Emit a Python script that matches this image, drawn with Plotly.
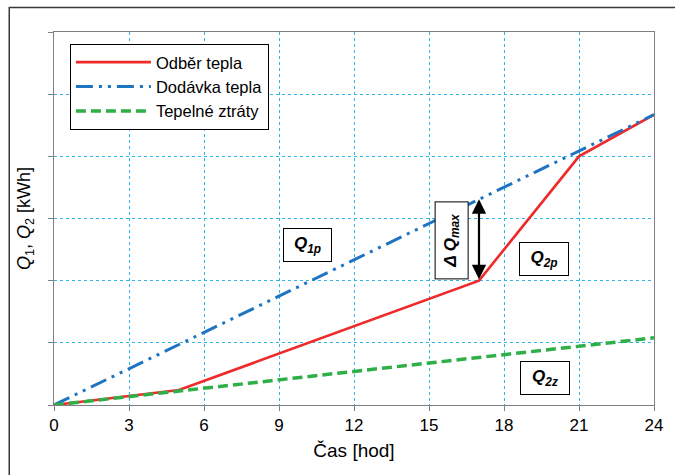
import numpy as np
import plotly.graph_objects as go

# ---- data ----
hours_odber = [0, 5, 17, 21, 24]
q_odber = [0, 0.24, 2.0, 4.0, 4.67]

hours_dodavka = [0, 24]
q_dodavka = [0, 4.67]

hours_ztraty = [0, 24]
q_ztraty = [0, 1.08]

x_ticks = [0, 3, 6, 9, 12, 15, 18, 21, 24]
y_grid = [0, 1, 2, 3, 4, 5, 6]

FONT = "Liberation Sans Narrow, Arial Narrow, Liberation Sans, Arial, sans-serif"
RED = "#EE2A2A"
BLUE = "#1F74C2"
GREEN = "#2EAF48"
GRID = "#2DB6EA"

fig = go.Figure()
fig.add_trace(go.Scatter(x=hours_odber, y=q_odber, mode="lines", name="Odběr tepla",
                         line=dict(color=RED, width=2.6)))
fig.add_trace(go.Scatter(x=hours_dodavka, y=q_dodavka, mode="lines", name="Dodávka tepla",
                         line=dict(color=BLUE, width=3, dash="17px,6px,3px,6px,3px,6px")))
fig.add_trace(go.Scatter(x=hours_ztraty, y=q_ztraty, mode="lines", name="Tepelné ztráty",
                         line=dict(color=GREEN, width=3.5, dash="10px,5px")))

# delta Q max arrow at t=17
t_arrow = 17
y_low = float(np.interp(t_arrow, hours_odber, q_odber))
y_high = float(np.interp(t_arrow, hours_dodavka, q_dodavka))
fig.add_annotation(x=t_arrow, y=y_high, ax=t_arrow, ay=y_low, xref="x", yref="y",
                   axref="x", ayref="y", text="", showarrow=True,
                   arrowhead=2, startarrowhead=2, arrowside="end+start",
                   arrowsize=1.3, startarrowsize=1.3, arrowwidth=2.2, arrowcolor="black",
                   standoff=0, startstandoff=0)

box = dict(showarrow=False, bgcolor="white", bordercolor="black", borderwidth=1,
           xref="x", yref="y", font=dict(family="Liberation Sans, Arial", size=17, color="black"))
fig.add_annotation(x=10.15, y=2.57, text="<b><i>Q<sub>1p</sub></i></b>", width=45, height=30, **box)
fig.add_annotation(x=19.58, y=2.35, text="<b><i>Q<sub>2p</sub></i></b>", width=46, height=30, **box)
fig.add_annotation(x=19.62, y=0.43, text="<b><i>Q<sub>2z</sub></i></b>", width=46, height=30, **box)
fig.add_annotation(x=15.90, y=2.64, text="<b><i>Δ Q<sub>max</sub></i></b>", textangle=-90,
                   width=74, height=30, **box)

# outer frame
fig.add_shape(type="rect", xref="paper", yref="paper", x0=-0.0746, y0=-0.3, x1=1.2, y1=1.0657,
              line=dict(color="#3a3a3a", width=1.5), layer="below")

fig.update_layout(
    width=675, height=475,
    margin=dict(l=54, r=18, t=32, b=70),
    paper_bgcolor="white", plot_bgcolor="white",
    font=dict(family=FONT, size=17, color="black"),
    showlegend=True,
    legend=dict(x=0.0265, y=0.968, xanchor="left", yanchor="top",
                bgcolor="white", bordercolor="black", borderwidth=1,
                font=dict(family="Liberation Sans, Arial", size=16.5, color="black"),
                itemwidth=75, tracegroupgap=0),
    xaxis=dict(range=[0, 24], tickvals=x_ticks, ticks="outside", ticklen=5, tickcolor="#808080",
               showgrid=True, gridcolor=GRID, griddash="dot", gridwidth=1,
               showline=True, linecolor="#808080", linewidth=1, mirror=True, zeroline=False,
               title=dict(text="Čas [hod]", font=dict(size=19), standoff=9),
               tickfont=dict(size=17)),
    yaxis=dict(range=[0, 6], tickvals=y_grid, showticklabels=False, ticks="outside", ticklen=5,
               tickcolor="#808080",
               showgrid=True, gridcolor=GRID, griddash="dot", gridwidth=1,
               showline=True, linecolor="#808080", linewidth=1, mirror=True, zeroline=False,
               title=dict(text="<i>Q</i><sub>1</sub>, <i>Q</i><sub>2</sub> [kWh]", font=dict(size=18),
                          standoff=12)),
)

fig.write_html("out.html")
